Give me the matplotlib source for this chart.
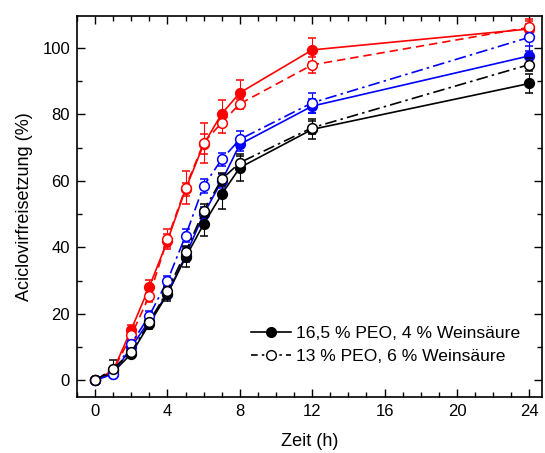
import matplotlib
matplotlib.use("Agg")
import matplotlib.pyplot as plt
from matplotlib.ticker import MultipleLocator
from matplotlib.lines import Line2D

plt.rcParams['font.family'] = ['Liberation Sans', 'DejaVu Sans']

time_h = [0, 1, 2, 3, 4, 5, 6, 7, 8, 12, 24]

red_filled = [0, 3, 15.3, 28.2, 42.0, 57.5, 71.0, 80.2, 86.5, 99.4, 105.7]
red_filled_err = [0, 1, 1.5, 2, 2, 2, 3, 4, 4, 3.5, 3]
red_open = [0, 3, 13.5, 25.5, 42.5, 58.0, 71.5, 77.5, 83.2, 94.9, 106.2]
red_open_err = [0, 1, 1.5, 2, 3, 5, 6, 3, 1.5, 2.5, 2]

blue_filled = [0, 2, 10, 18, 26, 37.5, 50, 60, 71, 82.5, 97.6]
blue_filled_err = [0, 0.5, 1, 1, 1.5, 2, 2, 2, 2, 2, 3]
blue_open = [0, 2, 11, 19.5, 30, 43.5, 58.5, 66.5, 72.5, 83.5, 103.2]
blue_open_err = [0, 0.5, 1, 1.5, 1.5, 2, 2, 2, 2.5, 3, 4]

black_filled = [0, 2.5, 8, 17, 26, 37, 47, 56, 64, 75.5, 89.3]
black_filled_err = [0, 1, 1, 1.5, 2, 3, 3.5, 4.5, 4, 3, 3]
black_open = [0, 3.5, 8.5, 17.5, 27, 38.5, 51, 60.5, 65.5, 76, 95]
black_open_err = [0, 2.5, 1, 1.5, 2, 2, 2, 2, 2, 2, 2]

legend_labels = ['16,5 % PEO, 4 % Weinsäure', '13 % PEO, 6 % Weinsäure']

fig = plt.figure(figsize=(5.45, 4.53), dpi=100)
ax = fig.add_axes([77 / 545, 1 - 397 / 453, 465 / 545, 381 / 453])

common = dict(lw=1.2, ms=7, capsize=3, elinewidth=0.8, capthick=0.8, mew=1.1)

filled = [(red_filled, red_filled_err, 'red'),
          (blue_filled, blue_filled_err, 'blue'),
          (black_filled, black_filled_err, 'black')]
opened = [(red_open, red_open_err, 'red', (0, (5, 3))),
          (blue_open, blue_open_err, 'blue', (0, (7, 2.5, 1.5, 2.5))),
          (black_open, black_open_err, 'black', (0, (7, 2.5, 1.5, 2.5)))]

for y, e, c in filled:
    ax.errorbar(time_h, y, yerr=e, color=c, marker='o', mfc=c, mec=c,
                ls='-', ecolor=c, zorder=3, **common)
for y, e, c, ls in opened:
    ax.errorbar(time_h, y, yerr=e, color=c, marker='o', mfc='white', mec=c,
                ls=ls, ecolor=c, zorder=4, **common)

ax.set_xlim(-1, 24.7)
ax.set_ylim(-5, 109.6)
ax.xaxis.set_major_locator(MultipleLocator(4))
ax.xaxis.set_minor_locator(MultipleLocator(1))
ax.yaxis.set_major_locator(MultipleLocator(20))
ax.yaxis.set_minor_locator(MultipleLocator(10))
ax.tick_params(which='both', direction='in', top=True, right=True, labelsize=12, width=1.0)
ax.tick_params(which='major', length=6, pad=5)
ax.tick_params(which='minor', length=3.5)
for s in ax.spines.values():
    s.set_linewidth(1.2)

ax.set_xlabel('Zeit (h)', fontsize=13, labelpad=10)
ax.set_ylabel('Aciclovirfreisetzung (%)', fontsize=13, labelpad=7)

handles = [Line2D([], [], color='black', marker='o', mfc='black', ls='-', lw=1.2, ms=7),
           Line2D([], [], color='black', marker='o', mfc='white', ls=(0, (4, 2.5, 1.5, 2.5)), lw=1.2, ms=7)]
ax.legend(handles, legend_labels, loc='lower right', bbox_to_anchor=(0.976, 0.06),
          frameon=False, fontsize=12.6, handlelength=2.3, handletextpad=0.3,
          labelspacing=0.4, borderaxespad=0.2)

fig.savefig('out.png', dpi=100)
